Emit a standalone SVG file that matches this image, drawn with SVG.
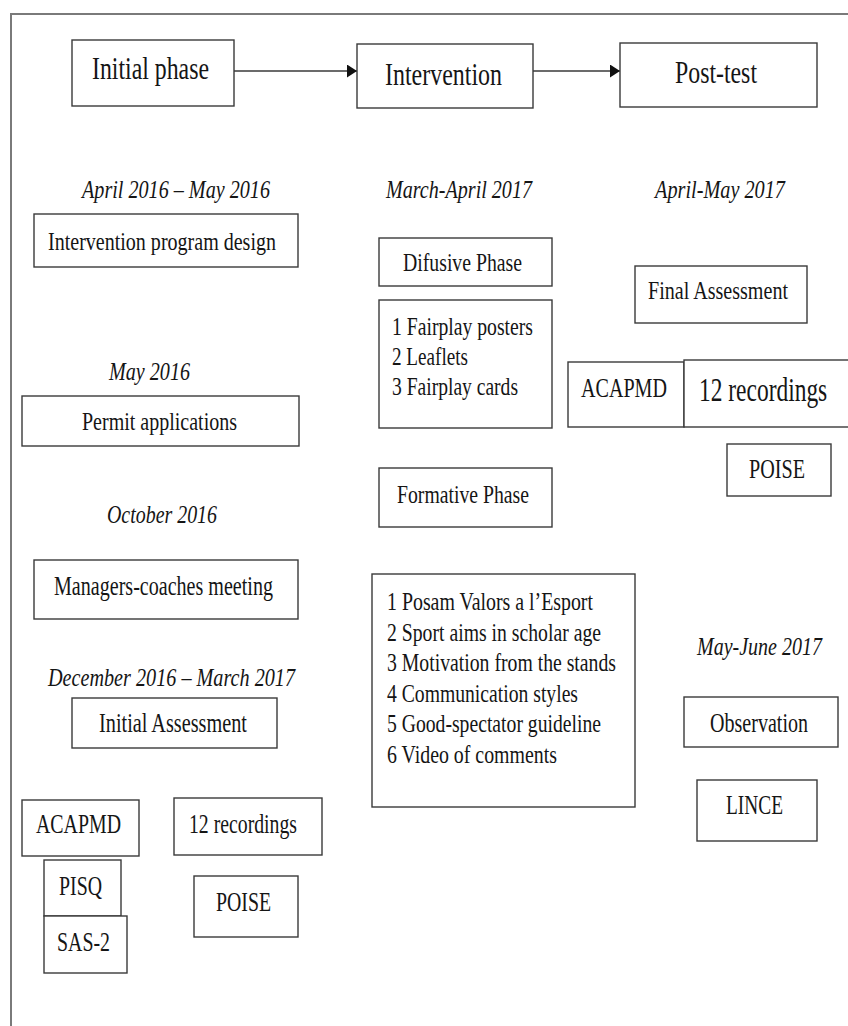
<svg xmlns="http://www.w3.org/2000/svg" width="848" height="1026" viewBox="0 0 848 1026">
<style>
  .box { fill: #ffffff; stroke: #3a3a3a; stroke-width: 1.4; }
  .frame { fill: none; stroke: #7a7a7a; stroke-width: 2; }
  .t { font-family: "Liberation Serif", "Times New Roman", serif; fill: #151515; }
  .d { font-family: "Liberation Serif", "Times New Roman", serif; font-style: italic; fill: #151515; font-size: 25px; }
  .conn { stroke: #3a3a3a; stroke-width: 1.4; fill: none; }
</style>
<defs>
  <marker id="arrow" markerUnits="userSpaceOnUse" markerWidth="11" markerHeight="14" refX="10" refY="6.5" orient="auto">
    <path d="M0,0 L10,6.5 L0,13 z" fill="#111111"/>
  </marker>
</defs>
<rect x="0" y="0" width="848" height="1026" fill="#ffffff"/>
<path class="frame" d="M11,1030 L11,14 L852,14"/>

<g id="connectors">
  <line class="conn" x1="234" y1="71" x2="357" y2="71" marker-end="url(#arrow)"/>
  <line class="conn" x1="533" y1="71" x2="620" y2="71" marker-end="url(#arrow)"/>
</g>

<g id="initial-phase">
  <rect class="box" x="72" y="40" width="162" height="66"/>
  <text class="t" x="92" y="79" font-size="32" textLength="117" lengthAdjust="spacingAndGlyphs">Initial phase</text>
</g>
<g id="intervention">
  <rect class="box" x="357" y="44" width="176" height="64"/>
  <text class="t" x="385" y="85" font-size="31" textLength="117" lengthAdjust="spacingAndGlyphs">Intervention</text>
</g>
<g id="post-test">
  <rect class="box" x="620" y="43" width="197" height="64"/>
  <text class="t" x="675" y="83" font-size="31" textLength="82" lengthAdjust="spacingAndGlyphs">Post-test</text>
</g>

<g id="date-apr-may-2016">
  <text class="d" x="82" y="198" textLength="188" lengthAdjust="spacingAndGlyphs">April 2016 – May 2016</text>
</g>
<g id="date-mar-apr-2017">
  <text class="d" x="386" y="198" textLength="146" lengthAdjust="spacingAndGlyphs">March-April 2017</text>
</g>
<g id="date-apr-may-2017">
  <text class="d" x="655" y="198" textLength="130" lengthAdjust="spacingAndGlyphs">April-May 2017</text>
</g>

<g id="intervention-program-design">
  <rect class="box" x="34" y="214" width="264" height="53"/>
  <text class="t" x="48" y="250" font-size="26" textLength="228" lengthAdjust="spacingAndGlyphs">Intervention program design</text>
</g>

<g id="date-may-2016">
  <text class="d" x="109" y="380" textLength="81" lengthAdjust="spacingAndGlyphs">May 2016</text>
</g>
<g id="permit-applications">
  <rect class="box" x="22" y="396" width="277" height="50"/>
  <text class="t" x="82" y="430" font-size="26" textLength="155" lengthAdjust="spacingAndGlyphs">Permit applications</text>
</g>

<g id="date-oct-2016">
  <text class="d" x="107" y="523" textLength="110" lengthAdjust="spacingAndGlyphs">October 2016</text>
</g>
<g id="managers-coaches-meeting">
  <rect class="box" x="34" y="560" width="264" height="59"/>
  <text class="t" x="54" y="595" font-size="27" textLength="219" lengthAdjust="spacingAndGlyphs">Managers-coaches meeting</text>
</g>

<g id="date-dec-2016-mar-2017">
  <text class="d" x="48" y="686" textLength="247" lengthAdjust="spacingAndGlyphs">December 2016 – March 2017</text>
</g>
<g id="initial-assessment">
  <rect class="box" x="72" y="698" width="205" height="50"/>
  <text class="t" x="99" y="732" font-size="27" textLength="148" lengthAdjust="spacingAndGlyphs">Initial Assessment</text>
</g>

<g id="acapmd-initial">
  <rect class="box" x="22" y="800" width="117" height="56"/>
  <text class="t" x="36" y="833" font-size="27" textLength="85" lengthAdjust="spacingAndGlyphs">ACAPMD</text>
</g>
<g id="recordings-initial">
  <rect class="box" x="174" y="798" width="148" height="57"/>
  <text class="t" x="189" y="833" font-size="27" textLength="108" lengthAdjust="spacingAndGlyphs">12 recordings</text>
</g>
<g id="pisq">
  <rect class="box" x="44" y="860" width="77" height="56"/>
  <text class="t" x="59" y="895" font-size="27" textLength="43" lengthAdjust="spacingAndGlyphs">PISQ</text>
</g>
<g id="sas-2">
  <rect class="box" x="44" y="916" width="83" height="57"/>
  <text class="t" x="57" y="951" font-size="27" textLength="53" lengthAdjust="spacingAndGlyphs">SAS-2</text>
</g>
<g id="poise-initial">
  <rect class="box" x="194" y="876" width="104" height="61"/>
  <text class="t" x="216" y="911" font-size="27" textLength="55" lengthAdjust="spacingAndGlyphs">POISE</text>
</g>

<g id="difusive-phase">
  <rect class="box" x="379" y="238" width="173" height="48"/>
  <text class="t" x="403" y="271" font-size="26" textLength="119" lengthAdjust="spacingAndGlyphs">Difusive Phase</text>
</g>
<g id="difusive-items">
  <rect class="box" x="379" y="300" width="173" height="128"/>
  <text class="t" x="392" y="335" font-size="25" textLength="141" lengthAdjust="spacingAndGlyphs">1 Fairplay posters</text>
  <text class="t" x="392" y="365" font-size="25" textLength="76" lengthAdjust="spacingAndGlyphs">2 Leaflets</text>
  <text class="t" x="392" y="395" font-size="25" textLength="126" lengthAdjust="spacingAndGlyphs">3 Fairplay cards</text>
</g>
<g id="formative-phase">
  <rect class="box" x="379" y="468" width="173" height="59"/>
  <text class="t" x="397" y="503" font-size="26" textLength="132" lengthAdjust="spacingAndGlyphs">Formative Phase</text>
</g>
<g id="formative-items">
  <rect class="box" x="372" y="574" width="263" height="233"/>
  <text class="t" x="387" y="610" font-size="25" textLength="206" lengthAdjust="spacingAndGlyphs">1 Posam Valors a l’Esport</text>
  <text class="t" x="387" y="640.5" font-size="25" textLength="214" lengthAdjust="spacingAndGlyphs">2 Sport aims in scholar age</text>
  <text class="t" x="387" y="671" font-size="25" textLength="229" lengthAdjust="spacingAndGlyphs">3 Motivation from the stands</text>
  <text class="t" x="387" y="701.5" font-size="25" textLength="191" lengthAdjust="spacingAndGlyphs">4 Communication styles</text>
  <text class="t" x="387" y="732" font-size="25" textLength="214" lengthAdjust="spacingAndGlyphs">5 Good-spectator guideline</text>
  <text class="t" x="387" y="762.5" font-size="25" textLength="170" lengthAdjust="spacingAndGlyphs">6 Video of comments</text>
</g>

<g id="final-assessment">
  <rect class="box" x="635" y="266" width="172" height="57"/>
  <text class="t" x="648" y="299" font-size="26" textLength="140" lengthAdjust="spacingAndGlyphs">Final Assessment</text>
</g>
<g id="acapmd-post">
  <rect class="box" x="568" y="362" width="116" height="65"/>
  <text class="t" x="581" y="397" font-size="27" textLength="86" lengthAdjust="spacingAndGlyphs">ACAPMD</text>
</g>
<g id="recordings-post">
  <rect class="box" x="684" y="360" width="170" height="67"/>
  <text class="t" transform="translate(699 401) scale(0.69 1)" font-size="34">12 recordings</text>
</g>
<g id="poise-post">
  <rect class="box" x="727" y="444" width="104" height="52"/>
  <text class="t" x="749" y="478" font-size="27" textLength="56" lengthAdjust="spacingAndGlyphs">POISE</text>
</g>

<g id="date-may-jun-2017">
  <text class="d" transform="translate(697 655) scale(0.8 1)">May-June 2017</text>
</g>
<g id="observation">
  <rect class="box" x="684" y="697" width="154" height="50"/>
  <text class="t" x="710" y="732" font-size="27" textLength="98" lengthAdjust="spacingAndGlyphs">Observation</text>
</g>
<g id="lince">
  <rect class="box" x="697" y="780" width="120" height="61"/>
  <text class="t" x="726" y="814" font-size="27" textLength="57" lengthAdjust="spacingAndGlyphs">LINCE</text>
</g>
</svg>
